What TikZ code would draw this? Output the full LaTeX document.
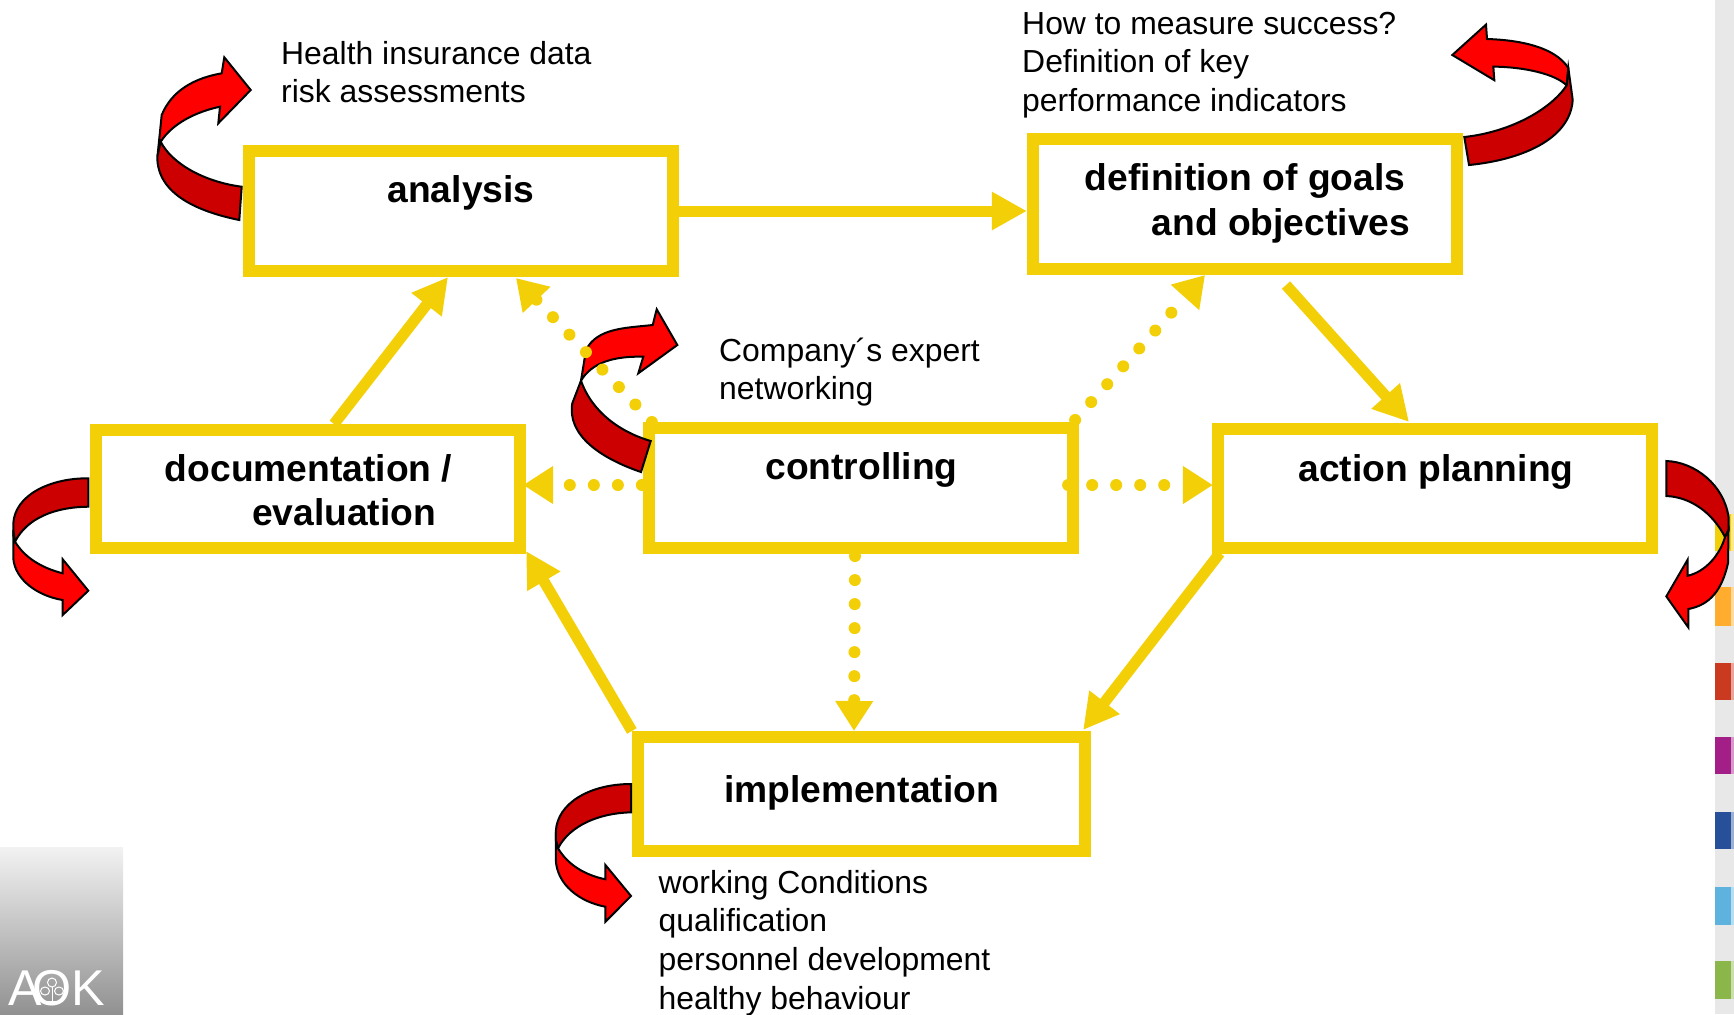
\documentclass[tikz,border=0pt]{standalone}
\usepackage{fontspec}
\setmainfont{Liberation Sans}
\usepackage{xcolor}
\usetikzlibrary{arrows.meta,calc}

\definecolor{boxyellow}{HTML}{F3CF07}
\definecolor{foldred}{HTML}{FF0000}
\definecolor{folddark}{HTML}{CC0000}
\definecolor{barorange}{HTML}{FFAC2F}
\definecolor{barred}{HTML}{C93A20}
\definecolor{barpurple}{HTML}{A31E86}
\definecolor{barblue}{HTML}{27509B}
\definecolor{barcyan}{HTML}{5DB3DD}
\definecolor{bargreen}{HTML}{8BB64A}

\tikzset{
  stagebox/.style={draw=boxyellow, line width=0.12cm, fill=none, inner sep=0pt, minimum width=4.24cm, minimum height=1.2cm},
  stagetext/.style={inner sep=0pt, align=left, font=\fontsize{10.58}{12.6}\selectfont\bfseries},
  notetext/.style={inner sep=0pt, anchor=west, align=left, font=\fontsize{9.07}{11}\selectfont},
  flow/.style={draw=boxyellow, line width=0.11cm, -{Triangle[length=0.35cm,width=0.36cm]}},
  dotflow/.style={draw=boxyellow, line width=0.12cm, line cap=round, dash pattern=on 0pt off 6.83pt, -{Triangle[length=0.3cm,width=0.36cm]}},
  foldfront/.style={draw=black, fill=foldred, line width=0.02cm, line join=miter},
  foldback/.style={draw=black, fill=folddark, line width=0.02cm, line join=miter},
}

\begin{document}
\begin{tikzpicture}[x=0.01cm,y=-0.01cm]
\useasboundingbox (0,0) rectangle (1734,1014);

% side bar
\fill[black!9] (1715,0) rectangle (1734,1014);
\fill[boxyellow] (1715,514) rectangle (1731,551); \fill[boxyellow!45] (1731,514) rectangle (1734,551);
\fill[barorange] (1715,587) rectangle (1731,626); \fill[barorange!45] (1731,587) rectangle (1734,626);
\fill[barred] (1715,663) rectangle (1731,700); \fill[barred!45] (1731,663) rectangle (1734,700);
\fill[barpurple] (1715,737) rectangle (1731,774); \fill[barpurple!45] (1731,737) rectangle (1734,774);
\fill[barblue] (1715,812) rectangle (1731,849); \fill[barblue!45] (1731,812) rectangle (1734,849);
\fill[barcyan] (1715,887) rectangle (1731,925); \fill[barcyan!45] (1731,887) rectangle (1734,925);
\fill[bargreen] (1715,961) rectangle (1731,999); \fill[bargreen!45] (1731,961) rectangle (1734,999);

% logo
\shade[top color=black!5, bottom color=black!43] (0,847) rectangle (123,1014);
\node[anchor=base west, inner sep=0pt, text=white, font=\fontsize{14.3}{15}\selectfont] (logotext) at (8,1005) {A\kern-2.8pt O\kern0pt K};
\begin{scope}[draw=white, line width=0.01cm]
\draw (52,987) -- (52,1001) (41,1001) -- (63,1001);
\draw (52,982.5) circle [radius=4.5];
\draw (45,991) ellipse [x radius=4.5, y radius=4];
\draw (59,991) ellipse [x radius=4.5, y radius=4];
\end{scope}

% stages
\node[stagebox] (analysis) at (461,211) {};
\node[stagebox, minimum height=1.3cm] (definition) at (1245,204) {};
\node[stagebox, minimum width=4.34cm, minimum height=1.19cm] (action) at (1435,488.5) {};
\node[stagebox] (controlling) at (861,488) {};
\node[stagebox, minimum height=1.18cm] (documentation) at (308,489) {};
\node[stagebox, minimum width=4.47cm, minimum height=1.14cm] (implementation) at (861.5,794) {};

\node[stagetext] (analysistext) at (461,193) {analysis};
\node[stagetext] (definitiontext) at (1247.5,203.5) {definition of goals\\\hspace*{19pt}and objectives};
\node[stagetext] (actiontext) at (1436,472) {action planning};
\node[stagetext] (controllingtext) at (861.5,470) {controlling};
\node[stagetext] (documentationtext) at (308.5,490.5) {documentation /\\\hspace*{24.8pt}evaluation};
\node[stagetext] (implementationtext) at (861.5,793) {implementation};

% notes
\node[notetext] (datanote) at (280.5,72) {Health insurance data\\risk assessments};
\node[notetext] (successnote) at (1021.5,65) {How to measure success?\\Definition of key\\performance indicators};
\node[notetext] (expertnote) at (718.5,372) {Company´s expert\\networking};
\node[notetext] (conditionsnote) at (658,943) {working Conditions\\qualification\\personnel development\\healthy behaviour};

% curved arrows
\draw[foldfront] (160.7,141.7) -- (157.5,156) -- (161.7,115) .. controls (172,90) and (195,78) .. (221.7,73.3) -- (224.3,57.3) -- (250.7,90) -- (218.3,123.3) -- (220,106.7) .. controls (195,112) and (172,124) .. (160.7,141.7) -- cycle;
\draw[foldback] (241.7,186.7) -- (239.3,220) .. controls (200,212) and (157,195) .. (157.3,156.7) -- (160.7,141.7) .. controls (172,164) and (205,182) .. (241.7,186.7) -- cycle;

\draw[foldfront] (581,380.7) -- (586,350) .. controls (597,328) and (625,328) .. (652.7,325) -- (656.7,309.3) -- (677.3,345) -- (638.3,373.3) -- (643.3,356.7) .. controls (615,356) and (592,362) .. (581,380.7) -- cycle;
\draw[foldback] (650.7,441) -- (641,472) .. controls (600,458) and (567,435) .. (572.3,403.3) -- (581,380.7) .. controls (592,412) and (620,432) .. (650.7,441) -- cycle;

\draw[foldback] (88.3,478.3) -- (88.3,506.7) .. controls (55,507) and (27,518) .. (15,541.7) -- (13.3,535) -- (13.3,523.3) .. controls (15,495) and (50,478) .. (88.3,478.3) -- cycle;
\draw[foldfront] (15,541.7) -- (13.3,530) -- (13.3,558.3) .. controls (15,580) and (38,596) .. (62.7,600) -- (62.7,615) -- (88.3,590.7) -- (62.7,559.3) -- (62.7,573.3) .. controls (42,568) and (25,558) .. (15,541.7) -- cycle;

\draw[foldback] (631,784) -- (631,812.3) .. controls (600,813) and (570,825) .. (558,848.3) -- (555.8,840) -- (555.8,831.7) .. controls (557,803) and (590,784) .. (631,784) -- cycle;
\draw[foldfront] (558,848.3) -- (555.8,840) -- (555.8,860) .. controls (557,885) and (580,902) .. (605.4,906.7) -- (605.4,921.7) -- (631,896) -- (605.4,865) -- (605.4,879.3) .. controls (585,875) and (568,865) .. (558,848.3) -- cycle;

\draw[foldfront] (1566.7,85.4) -- (1568.3,68) .. controls (1555,47) and (1520,40) .. (1487,39) -- (1486,24.6) -- (1452.3,55) -- (1494.3,80.2) -- (1493.3,66.6) .. controls (1525,67) and (1555,74) .. (1566.7,85.4) -- cycle;
\draw[foldback] (1464.3,137) -- (1469,165) .. controls (1520,160) and (1570,140) .. (1572.7,100) -- (1568.3,68) -- (1566.7,85.4) .. controls (1550,110) and (1510,132) .. (1464.3,137) -- cycle;

\draw[foldback] (1666.3,461) -- (1666.3,496) .. controls (1690,497) and (1712,512) .. (1725,537) -- (1728.5,530) -- (1728.5,517) .. controls (1724,485) and (1695,462) .. (1666.3,461) -- cycle;
\draw[foldfront] (1725,537) -- (1728.5,530) -- (1728,563) .. controls (1722,590) and (1710,605) .. (1688.3,609) -- (1688.3,627.4) -- (1666.3,596.4) -- (1687.7,559.5) -- (1687.7,575.7) .. controls (1705,572) and (1720,555) .. (1725,537) -- cycle;

% connectors
\draw[flow] (analysis.east) -- (analysis.east -| definition.west);
\draw[flow] ($(definition.south)+(41,10)$) -- ($(action.north)+(-26,-1)$);
\draw[flow] ($(action.south west)+(8,-1)$) -- ($(implementation.north east)+(-8,-1)$);
\draw[flow] (implementation.north west) -- ($(documentation.south east)+(0,-3)$);
\draw[flow] ($(documentation.north)+(26,0)$) -- ($(analysis.south)+(-13,0)$);

\draw[dotflow] ($(controlling.north west)+(9,0)$) -- ($(analysis.south)+(55,1)$);
\draw[dotflow] ($(controlling.north east)+(-4,-2)$) -- ($(definition.south)+(-40,0)$);
\draw[dotflow] ($(controlling.west)+(-1,-3)$) -- ($(documentation.east)+(-3,-4)$);
\draw[dotflow] ($(controlling.east)+(-11,-3)$) -- ($(action.west)+(1,-3.5)$);
\draw[dotflow] ($(controlling.south)+(-6,2)$) -- ($(implementation.north)+(-7.5,0)$);
\end{tikzpicture}
\end{document}
